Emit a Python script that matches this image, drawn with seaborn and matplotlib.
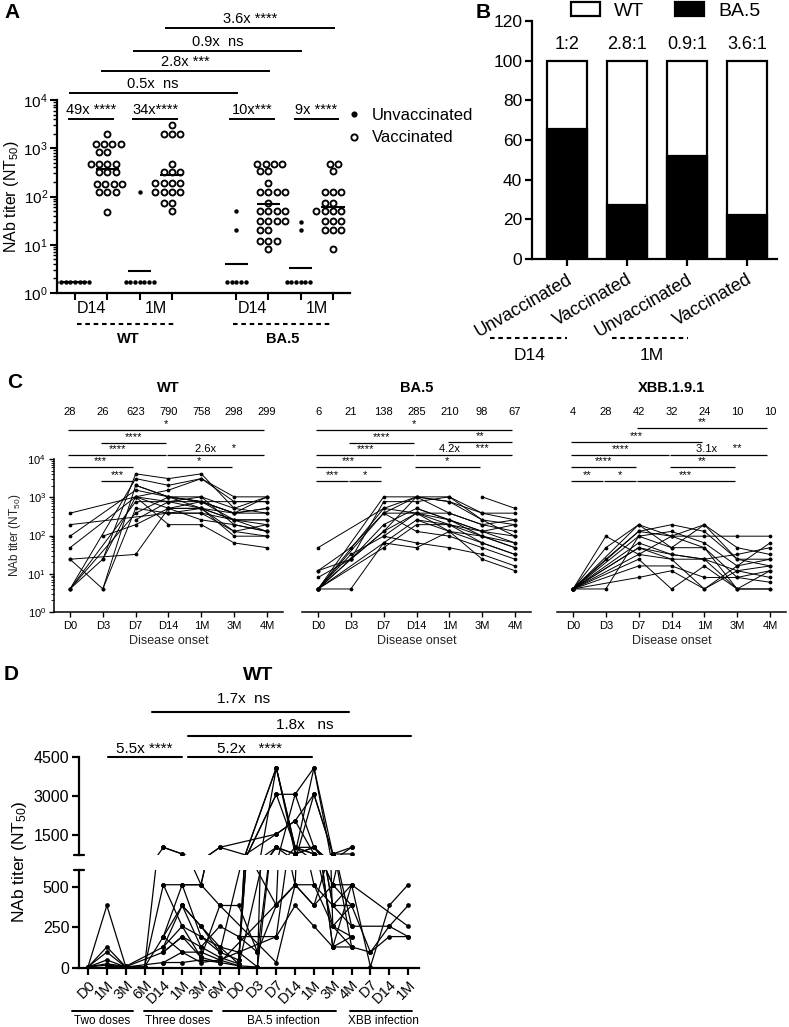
import numpy as np
import pandas as pd
import matplotlib
matplotlib.use("Agg")
import matplotlib.pyplot as plt
import matplotlib.transforms as mtransforms
from matplotlib.lines import Line2D
from matplotlib.patches import Patch
from matplotlib.ticker import LogLocator, LogFormatterMathtext, NullFormatter, FixedLocator
import seaborn as sns

nan = np.nan

# ===================== DATA =====================
# ---- Panel A : NAb titers (NT50) ----
a_positions = [0, 1, 2, 3, 5, 6, 7, 8]
a_wt_d14_unvac = [1.7, 1.7, 1.7, 1.7, 1.7, 1.7, 1.7, 1.7]
a_wt_d14_vac = [2000, 1200, 1200, 1200, 1200, 850, 850, 470, 470, 470, 470,
                320, 320, 320, 180, 180, 180, 180, 125, 125, 125, 47]
a_wt_1m_unvac = [126, 1.7, 1.7, 1.7, 1.7, 1.7, 1.7, 1.7]
a_wt_1m_vac = [3000, 2000, 2000, 2000, 470, 320, 320, 320, 190, 190, 190, 190,
               126, 126, 126, 126, 75, 75, 49]
a_ba5_d14_unvac = [51, 20, 1.7, 1.7, 1.7, 1.7, 1.7]
a_ba5_d14_vac = [470, 470, 470, 470, 330, 330, 190, 126, 126, 126, 126, 75,
                 51, 51, 51, 51, 31, 31, 31, 31, 20, 20, 12, 12, 12, 8]
a_ba5_1m_unvac = [29, 20, 1.7, 1.7, 1.7, 1.7, 1.7, 1.7]
a_ba5_1m_vac = [470, 470, 330, 126, 126, 126, 75, 75, 51, 51, 51, 51,
                31, 31, 31, 20, 20, 20, 8]
a_tick_labels = ["D14", "1M", "D14", "1M"]
a_group_labels = ["WT", "BA.5"]
a_inner = [(0, 1, "49x ****"), (2, 3, "34x****"), (5, 6, "10x***"), (7, 8, "9x ****")]
a_outer = [(3, 8, "3.6x ****"), (2, 7, "0.9x  ns"), (1, 6, "2.8x ***"), (0, 5, "0.5x  ns")]

# ---- Panel B : proportion (%) ----
b_groups = ["D14 Unvaccinated", "D14 Vaccinated", "1M Unvaccinated", "1M Vaccinated"]
b_tick_labels = ["Unvaccinated", "Vaccinated", "Unvaccinated", "Vaccinated"]
b_total = [100, 100, 100, 100]
b_ba5 = [65.5, 27, 52, 22]
b_ratios = ["1:2", "2.8:1", "0.9:1", "3.6:1"]

# ---- Panel C : longitudinal titers after disease onset ----
c_timepoints = ["D0", "D3", "D7", "D14", "1M", "3M", "4M"]
c_wt = [
    [384, nan, 1024, 768, 512, 256, 192],
    [192, nan, nan, 384, 384, 256, 256],
    [96, nan, 1536, 1024, 768, 384, 512],
    [48, nan, 1024, 512, 512, 128, 96],
    [24, nan, 32, 512, 768, 384, 384],
    [24, 4, 2048, 1024, 1024, 512, 1024],
    [4, 24, 1024, 1536, 3072, 768, 768],
    [4, nan, 3072, 2048, 3072, 1024, 1024],
    [4, nan, 768, 768, 1024, 192, 128],
    [4, nan, 384, 1024, 768, 256, 256],
    [nan, 96, 192, 512, 512, 96, 96],
    [nan, 24, 4096, 3072, 4096, 512, 384],
    [nan, 4, 512, 384, 384, 128, 192],
    [nan, nan, 256, 768, 768, 384, 512],
    [nan, nan, 1024, 192, 192, 64, 48],
    [nan, nan, 2048, 1024, 512, 256, 128],
    [nan, nan, nan, 512, 256, 192, 128],
    [nan, nan, nan, 384, 512, 384, 1024],
    [nan, nan, nan, 1024, 768, 768, 768],
]
c_ba5 = [
    [48, nan, 512, 1024, 1024, 384, 256],
    [12, 48, 384, 1024, 768, 256, 192],
    [8, 24, 128, 1024, 384, 192, 128],
    [4, 24, 768, 768, 1024, 256, 96],
    [4, 24, 192, 512, 256, 128, 64],
    [4, 32, 96, 384, 192, 96, 48],
    [4, 4, 64, 256, 128, 64, 32],
    [4, nan, 1024, 1024, 768, 384, 384],
    [4, nan, 512, 384, 384, 192, 256],
    [4, nan, 48, 192, 192, 128, 96],
    [4, nan, 384, 128, 96, 48, 24],
    [4, nan, 64, 48, 128, 96, 64],
    [nan, nan, 96, 64, 48, 32, 16],
    [nan, nan, nan, 512, 256, 96, 48],
    [nan, nan, nan, 256, 192, 64, 32],
    [nan, nan, nan, nan, nan, 1024, 512],
    [nan, nan, 384, 384, 128, 24, 12],
    [12, 24, 128, 384, 256, 128, 192],
]
c_xbb = [
    [4, 96, 32, 24, 24, 12, 16],
    [4, 48, 192, 96, 192, 48, 32],
    [4, 24, 128, 192, 128, 24, 16],
    [4, 4, 96, 128, 64, 16, 24],
    [4, nan, 192, 48, 48, 4, 12],
    [4, nan, 64, 32, 24, 32, 48],
    [4, nan, 48, 24, 4, 12, 8],
    [4, nan, 24, 4, 16, 4, 4],
    [4, nan, 16, 16, 8, 8, 6],
    [4, nan, 128, 96, 96, 96, 96],
    [4, nan, 8, 12, 4, 16, 64],
    [4, nan, 96, 48, 192, 24, 24],
    [4, nan, 32, 96, 48, 8, 12],
    [4, nan, 48, 32, 24, 4, 4],
]
c_titles = ["WT", "BA.5", "XBB.1.9.1"]
c_gmt = [["28", "26", "623", "790", "758", "298", "299"],
         ["6", "21", "138", "285", "210", "98", "67"],
         ["4", "28", "42", "32", "24", "10", "10"]]
c_brackets = [
    [(0, 6, 430, "*"), (1, 3, 443, "****"), (0, 3, 455, "****"), (3, 6, 455, "2.6x     *"),
     (0, 2, 467, "***"), (3, 5, 467, "*"), (1, 2, 481, "***")],
    [(0, 6, 430, "*"), (1, 3, 443, "****"), (4, 6, 442, "**"), (0, 3, 455, "****"),
     (3, 6, 455, "4.2x     ***"), (0, 2, 467, "***"), (3, 5, 467, "*"),
     (0, 1, 481, "***"), (1, 2, 481, "*")],
    [(2, 6, 428, "**"), (0, 4, 442, "***"), (0, 3, 455, "****"), (3, 6, 455, "3.1x     **"),
     (0, 2, 467, "****"), (3, 5, 467, "**"), (0, 1, 481, "**"), (1, 2, 481, "*"),
     (2, 5, 481, "***")],
]

# ---- Panel D : WT titers across vaccination / infection ----
d_timepoints = ["D0", "1M", "3M", "6M", "D14", "1M", "3M", "6M",
                "D0", "D3", "D7", "D14", "1M", "3M", "4M", "D7", "D14", "1M"]
d_groups = [("Two doses", 72, 133, 102), ("Three doses", 144, 212, 178),
            ("BA.5 infection", 223, 336, 283), ("XBB infection", 350, 412, 383)]
d_subjects = [
    [6, 384, 8, nan, nan, nan, nan, nan, nan, nan, nan, nan, nan, nan, nan, nan, nan, nan],
    [4, 128, 6, 4, 1024, 768, nan, nan, nan, nan, nan, nan, nan, nan, nan, nan, nan, nan],
    [6, 96, 4, 4, 512, 512, 512, 1024, nan, nan, 1536, 2048, 3072, 768, 768, nan, nan, nan],
    [4, 48, 4, 4, 192, 384, 256, 128, 96, 4, 4096, 1024, 768, 512, 1024, nan, nan, nan],
    [6, 24, 8, nan, 128, 256, 192, 96, 48, nan, 3072, 3072, 1024, 384, 512, 6, 384, 512],
    [4, 16, 6, nan, 96, 192, 128, 64, 24, nan, 4096, 768, 4096, 256, 384, 96, 192, 192],
    [nan, 8, 4, nan, 32, 96, 96, 48, 12, nan, 1024, 512, 3072, 768, 256, nan, 256, 384],
    [nan, nan, nan, nan, 192, 512, 512, 384, 384, 96, 384, 512, 512, 256, 128, nan, nan, nan],
    [nan, nan, nan, nan, 128, 384, 128, 256, 192, nan, 192, 384, 256, 128, 192, nan, nan, nan],
    [nan, nan, nan, nan, 96, 192, 64, 384, nan, nan, 32, 512, 384, 512, 512, nan, nan, 256],
    [nan, nan, nan, nan, 32, 32, 48, 32, 12, 4, 1024, 768, 1024, 384, 256, nan, nan, nan],
    [nan, nan, nan, nan, 1024, 768, 512, 1024, nan, nan, 384, 3072, 4096, 768, 1024, nan, nan, nan],
    [nan, nan, nan, nan, 192, 96, 32, 48, 96, nan, 192, 1024, 1024, 128, 128, nan, nan, nan],
    [nan, nan, nan, nan, nan, 512, 192, 128, 24, nan, 4096, 1024, 512, 384, 384, nan, nan, nan],
    [nan, nan, nan, nan, nan, 384, 256, 96, nan, nan, 1536, 2048, 768, 256, 192, nan, nan, nan],
    [nan, nan, nan, nan, 512, 256, 64, 32, nan, nan, nan, 512, 384, 768, 128, 96, 256, 192],
    [nan, nan, nan, nan, nan, nan, nan, nan, 192, 96, 1024, 768, 1024, 128, 512, nan, nan, nan],
    [nan, nan, nan, nan, nan, nan, nan, nan, 48, nan, 3072, 1024, 768, 512, 384, nan, nan, nan],
]
d_brackets = [(3.4, 13.85, 711.7, "1.7x  ns", 699, 8.25), (5.31, 17.16, 735.7, "1.8x   ns", 725, 11.5),
              (1.06, 5.0, 757, "5.5x ****", 749, 3.0), (5.31, 11.9, 757, "5.2x   ****", 749, 8.6)]

# ===================== FIGURE =====================
W, H = 789, 1027
sns.set_theme(style="ticks")
plt.rcParams["font.family"] = ["Liberation Sans", "DejaVu Sans"]
plt.rcParams["mathtext.fontset"] = "custom"
plt.rcParams["mathtext.rm"] = "Liberation Sans"
plt.rcParams["mathtext.it"] = "Liberation Sans:italic"
plt.rcParams["mathtext.bf"] = "Liberation Sans:bold"
plt.rcParams["axes.edgecolor"] = "black"
plt.rcParams["xtick.color"] = "black"
plt.rcParams["ytick.color"] = "black"
plt.rcParams["text.color"] = "black"

fig = plt.figure(figsize=(W / 100, H / 100), dpi=100)


def fx(px):
    return px / W


def fy(py):
    return 1 - py / H


def ax_px(x0, y0, x1, y1):
    return fig.add_axes([x0 / W, 1 - y1 / H, (x1 - x0) / W, (y1 - y0) / H])


def hline_fig(x0, x1, py, lw=1.3, ls="-"):
    fig.add_artist(Line2D([fx(x0), fx(x1)], [fy(py), fy(py)], transform=fig.transFigure,
                          color="black", lw=lw, ls=ls))


def bracket(ax, x0, x1, py, text, fs, lw=1.0, ty=None, tx=None):
    tr = mtransforms.blended_transform_factory(ax.transData, fig.transFigure)
    ax.plot([x0, x1], [fy(py), fy(py)], transform=tr, color="black", lw=lw,
            clip_on=False, solid_capstyle="butt")
    if ty is None:
        ty = py - 1
    if tx is None:
        tx = (x0 + x1) / 2
    ax.text(tx, fy(ty), text, transform=tr, ha="center", va="bottom", fontsize=fs,
            clip_on=False)


def style_spines(ax, lw):
    sns.despine(ax=ax)
    for s in ["left", "bottom"]:
        ax.spines[s].set_linewidth(lw)
        ax.spines[s].set_color("black")


def long_form(rows):
    recs = [(i, t, v) for i, r in enumerate(rows) for t, v in enumerate(r) if not np.isnan(v)]
    return pd.DataFrame(recs, columns=["subj", "t", "v"])


# ---------------- Panel A ----------------
axA = ax_px(57, 100, 350, 293)
axA.set_yscale("log")
a_groups = [a_wt_d14_unvac, a_wt_d14_vac, a_wt_1m_unvac, a_wt_1m_vac,
            a_ba5_d14_unvac, a_ba5_d14_vac, a_ba5_1m_unvac, a_ba5_1m_vac]
unv = pd.DataFrame([(a_positions[i], v) for i in (0, 2, 4, 6) for v in a_groups[i]],
                   columns=["pos", "titer"])
vac = pd.DataFrame([(a_positions[i], v) for i in (1, 3, 5, 7) for v in a_groups[i]],
                   columns=["pos", "titer"])
sns.swarmplot(data=unv, x="pos", y="titer", native_scale=True, orient="x", color="black",
              size=3.2, linewidth=0, ax=axA)
sns.swarmplot(data=vac, x="pos", y="titer", native_scale=True, orient="x", color="white",
              edgecolor="black", size=4.3, linewidth=1.35, ax=axA)
for p, vals in zip(a_positions, a_groups):
    gm = 10 ** np.mean(np.log10(vals))
    axA.hlines(gm, p - 0.36, p + 0.36, color="black", lw=1.5, zorder=5)
axA.set_ylim(1, 1e4)
axA.set_xlim(-0.56, 8.53)
axA.yaxis.set_major_locator(LogLocator(base=10, numticks=10))
axA.yaxis.set_major_formatter(LogFormatterMathtext())
axA.yaxis.set_minor_locator(LogLocator(base=10, subs=np.arange(2, 10), numticks=20))
axA.yaxis.set_minor_formatter(NullFormatter())
axA.set_xticks([0.5, 2.5, 5.5, 7.5], a_tick_labels)
axA.xaxis.set_minor_locator(FixedLocator(a_positions))
axA.tick_params(axis="x", which="major", length=0, labelsize=11.5, pad=6)
axA.tick_params(axis="x", which="minor", length=5, width=1.5, direction="out")
axA.tick_params(axis="y", which="major", length=5, width=1.5, labelsize=11, pad=1.5)
axA.tick_params(axis="y", which="minor", length=3, width=1.0)
axA.set_xlabel("")
axA.set_ylabel("")
fig.text(fx(12), fy(197), "NAb titer (NT$_{50}$)", rotation=90, ha="center", va="center",
         fontsize=11.5)
style_spines(axA, 1.6)
for x0, x1, lab in a_inner:
    bracket(axA, x0 - 0.22, x1 + 0.2, 119, lab, 10.5, lw=1.4, ty=117)
for k, (x0, x1, lab) in enumerate(a_outer):
    py = [28, 51, 71, 93][k]
    bracket(axA, x0 - 0.2, x1 + 0.05, py, lab, 10.5, lw=1.4, ty=py - 2)
hline_fig(77, 177, 324, lw=1.5, ls=(0, (2.2, 1.8)))
hline_fig(233, 333, 324, lw=1.5, ls=(0, (2.2, 1.8)))
fig.text(fx(128), fy(339), a_group_labels[0], ha="center", va="center", fontsize=10.5,
         fontweight="bold")
fig.text(fx(283), fy(339), a_group_labels[1], ha="center", va="center", fontsize=10.5,
         fontweight="bold")
legA = [Line2D([], [], marker="o", ls="", color="black", markersize=3.4),
        Line2D([], [], marker="o", ls="", markerfacecolor="white", markeredgecolor="black",
               markeredgewidth=1.35, markersize=4.5)]
fig.legend(legA, ["Unvaccinated", "Vaccinated"], loc="upper left",
           bbox_to_anchor=(fx(346), fy(108)), frameon=False, fontsize=12,
           handletextpad=0.55, labelspacing=0.45, borderaxespad=0, borderpad=0,
           handlelength=1.0)
fig.text(fx(12), fy(13), "A", ha="center", va="center", fontsize=15, fontweight="bold")

# ---------------- Panel B ----------------
axB = ax_px(532, 21, 777, 259)
sns.barplot(x=b_groups, y=b_total, color="white", edgecolor="black", linewidth=1.6,
            width=0.67, saturation=1, ax=axB)
sns.barplot(x=b_groups, y=b_ba5, color="black", edgecolor="black", linewidth=1.6,
            width=0.67, saturation=1, ax=axB)
axB.set_ylim(0, 120)
axB.set_xlim(-0.58, 3.5)
axB.set_yticks(range(0, 121, 20))
axB.set_xticks(range(4))
axB.set_xticklabels(b_tick_labels, rotation=30, ha="right", va="top",
                    rotation_mode="anchor", fontsize=13)
off = mtransforms.ScaledTranslation(11 / 100, -2 / 100, fig.dpi_scale_trans)
for lab in axB.get_xticklabels():
    lab.set_transform(lab.get_transform() + off)
axB.tick_params(axis="both", length=5, width=1.6)
axB.tick_params(axis="y", labelsize=12.5, pad=2)
axB.set_xlabel("")
axB.set_ylabel("")
style_spines(axB, 1.6)
for i, r in enumerate(b_ratios):
    axB.text(i, 108, r, ha="center", va="center", fontsize=13)
legB = [Patch(facecolor="white", edgecolor="black", linewidth=1.6),
        Patch(facecolor="black", edgecolor="black", linewidth=1.6)]
fig.legend(legB, ["WT", "BA.5"], loc="center left", bbox_to_anchor=(fx(571), fy(11)),
           ncol=2, frameon=False, fontsize=14, handlelength=1.5, handleheight=0.7,
           handletextpad=0.7, columnspacing=1.6, borderpad=0, borderaxespad=0)
hline_fig(490, 567, 338, lw=1.5, ls=(0, (2.2, 1.8)))
hline_fig(612, 688, 338, lw=1.5, ls=(0, (2.2, 1.8)))
fig.text(fx(530), fy(355), "D14", ha="center", va="center", fontsize=12.5)
fig.text(fx(652), fy(355), "1M", ha="center", va="center", fontsize=12.5)
fig.text(fx(483), fy(13), "B", ha="center", va="center", fontsize=15, fontweight="bold")

# ---------------- Panel C ----------------
c_boxes = [(53.6, 283.4), (301.6, 531.4), (556.6, 786.4)]
c_data = [c_wt, c_ba5, c_xbb]
for k in range(3):
    x0, x1 = c_boxes[k]
    ax = ax_px(x0, 459, x1, 612)
    df = long_form(c_data[k])
    sns.lineplot(data=df, x="t", y="v", units="subj", estimator=None, color="black",
                 linewidth=0.7, marker="o", markersize=2.7, markeredgewidth=0,
                 legend=False, ax=ax)
    ax.set_yscale("log")
    ax.set_ylim(1, 1e4)
    ax.set_xlim(-0.5, 6.5)
    ax.set_xticks(range(7), c_timepoints)
    ax.tick_params(axis="x", length=3.5, width=1.0, labelsize=8, pad=3)
    ax.set_xlabel("Disease onset", fontsize=9, labelpad=3)
    sns.despine(ax=ax)
    ax.spines["bottom"].set_linewidth(1.1)
    if k == 0:
        ax.yaxis.set_major_locator(LogLocator(base=10, numticks=10))
        ax.yaxis.set_major_formatter(LogFormatterMathtext())
        ax.yaxis.set_minor_locator(LogLocator(base=10, subs=np.arange(2, 10), numticks=20))
        ax.yaxis.set_minor_formatter(NullFormatter())
        ax.tick_params(axis="y", which="major", length=3.5, width=1.0, labelsize=8, pad=2)
        ax.tick_params(axis="y", which="minor", length=2, width=0.6)
        ax.spines["left"].set_linewidth(1.1)
        ax.set_ylabel("NAb titer (NT$_{50}$)", fontsize=8.5, labelpad=3)
    else:
        ax.spines["left"].set_visible(False)
        ax.set_yticks([])
        ax.set_ylabel("")
        ax.minorticks_off()
    fig.text(fx((x0 + x1) / 2), fy(388), c_titles[k], ha="center", va="center",
             fontsize=10.5, fontweight="bold")
    tr = mtransforms.blended_transform_factory(ax.transData, fig.transFigure)
    for t, g in enumerate(c_gmt[k]):
        ax.text(t, fy(412), g, transform=tr, ha="center", va="center", fontsize=8)
    for (b0, b1, py, lab) in c_brackets[k]:
        bracket(ax, b0 - 0.05, b1 - 0.08, py, lab, 8, lw=0.9, ty=py - 0.5)
fig.text(fx(15), fy(382), "C", ha="center", va="center", fontsize=15, fontweight="bold")

# ---------------- Panel D ----------------
axDu = ax_px(79, 757.3, 419, 855)
axDl = ax_px(79, 870, 419, 967.7)
dfD = long_form(d_subjects)
for ax in (axDu, axDl):
    sns.lineplot(data=dfD, x="t", y="v", units="subj", estimator=None, color="black",
                 linewidth=0.9, marker="o", markersize=3.4, markeredgewidth=0,
                 legend=False, ax=ax)
    ax.set_xlim(-0.48, 17.58)
    ax.set_xlabel("")
    ax.set_ylabel("")
    sns.despine(ax=ax)
    ax.spines["left"].set_linewidth(1.6)
axDu.set_ylim(728, 4500)
axDl.set_ylim(0, 603)
axDu.set_yticks([1500, 3000, 4500])
axDl.set_yticks([0, 250, 500])
axDu.spines["bottom"].set_visible(False)
axDu.set_xticks([])
axDl.spines["bottom"].set_linewidth(1.6)
axDl.set_xticks(range(len(d_timepoints)))
axDl.set_xticklabels(d_timepoints, rotation=45, ha="right", va="top",
                     rotation_mode="anchor", fontsize=10.5)
for ax in (axDu, axDl):
    ax.tick_params(axis="y", length=5, width=1.6, labelsize=11.5, pad=2)
axDl.tick_params(axis="x", length=5, width=1.6, pad=2)
brk = mtransforms.blended_transform_factory(axDu.transAxes, axDu.transAxes)
axDu.plot([-0.016, 0.016], [0, 0], transform=brk, color="black", lw=1.6, clip_on=False)
brk2 = mtransforms.blended_transform_factory(axDl.transAxes, axDl.transAxes)
axDl.plot([-0.016, 0.016], [1, 1], transform=brk2, color="black", lw=1.6, clip_on=False)
for (b0, b1, py, lab, ty, tx) in d_brackets:
    tr = mtransforms.blended_transform_factory(axDu.transData, fig.transFigure)
    axDu.plot([b0, b1], [fy(py), fy(py)], transform=tr, color="black", lw=1.5, clip_on=False)
    axDu.text(tx, fy(ty), lab, transform=tr, ha="center", va="center",
              fontsize=11, clip_on=False)
axDu.set_xlim(-0.48, 17.58)
for name, gx0, gx1, tcx in d_groups:
    hline_fig(gx0, gx1, 1010.7, lw=1.4)
    fig.text(fx(tcx), fy(1020.5), name, ha="center", va="center", fontsize=8.5)
fig.text(fx(20), fy(862), "NAb titer (NT$_{50}$)", rotation=90, ha="center", va="center",
         fontsize=12.5)
fig.text(fx(11), fy(675), "D", ha="center", va="center", fontsize=15, fontweight="bold")
fig.text(fx(258), fy(675), "WT", ha="center", va="center", fontsize=14, fontweight="bold")

fig.savefig("out.png", dpi=100)
